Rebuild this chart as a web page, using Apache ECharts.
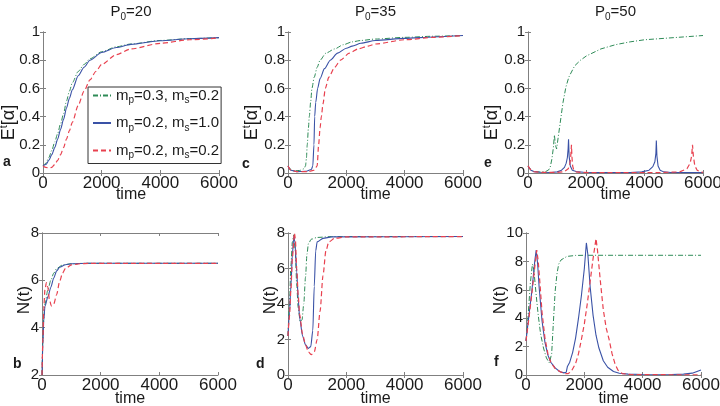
<!DOCTYPE html>
<html><head><meta charset="utf-8">
<script src="https://cdn.jsdelivr.net/npm/echarts/dist/echarts.min.js"></script>
<style>html,body{margin:0;padding:0;background:#fff}#c{width:720px;height:406px}</style>
</head><body><div id="c"></div>
<script>
// ---------- data ----------
const seriesNames = ['m_p=0.3, m_s=0.2', 'm_p=0.2, m_s=1.0', 'm_p=0.2, m_s=0.2'];
const panelTitles = ['20', '35', '50'];
const panelLetters = ['a', 'c', 'e', 'b', 'd', 'f'];
const xTicks = [0, 2000, 4000, 6000];

// panel a : P0=20, E^t[alpha]
const aGreenT = [0,100,200,300,400,500,600,700,800,900,1000,1200,1400,1600,2000,2500,3000,4000,5000,6000];
const aGreenV = [0.05,0.07,0.11,0.16,0.22,0.28,0.35,0.42,0.51,0.58,0.64,0.72,0.77,0.81,0.86,0.895,0.915,0.94,0.953,0.96];
const aBlueT = [0,100,200,300,400,500,600,700,800,900,1000,1200,1400,1600,2000,2500,3000,4000,5000,6000];
const aBlueV = [0.05,0.06,0.09,0.13,0.18,0.24,0.31,0.38,0.46,0.53,0.59,0.69,0.75,0.8,0.855,0.89,0.912,0.938,0.952,0.96];
const aRedT = [0,100,200,300,400,500,600,700,800,900,1000,1200,1400,1600,1800,2000,2500,3000,4000,5000,6000];
const aRedV = [0.05,0.04,0.035,0.04,0.06,0.09,0.13,0.18,0.24,0.3,0.36,0.48,0.58,0.66,0.72,0.77,0.84,0.88,0.92,0.945,0.958];

// panel c : P0=35, E^t[alpha]
const cGreenT = [0,100,200,400,550,600,630,660,700,730,780,820,900,1000,1100,1300,1600,1900,2200,2500,3000,4000,5000,6000];
const cGreenV = [0.05,0.025,0.015,0.018,0.03,0.05,0.1,0.2,0.32,0.4,0.51,0.6,0.68,0.75,0.8,0.85,0.88,0.91,0.93,0.94,0.95,0.962,0.97,0.975];
const cBlueT = [0,100,300,600,800,850,890,915,950,1016,1100,1250,1450,1700,2000,2200,2500,3000,4000,5000,6000];
const cBlueV = [0.05,0.02,0.01,0.012,0.025,0.05,0.2,0.4,0.5,0.6,0.67,0.74,0.8,0.85,0.885,0.9,0.92,0.94,0.955,0.965,0.975];
const cRedT = [0,100,300,700,900,1000,1050,1100,1143,1200,1280,1400,1600,1800,2100,2400,2750,3000,4000,5000,6000];
const cRedV = [0.05,0.02,0.01,0.01,0.02,0.05,0.2,0.32,0.4,0.49,0.6,0.68,0.75,0.8,0.85,0.88,0.9,0.915,0.945,0.962,0.975];

// panel e : P0=50, E^t[alpha]
const eGreenT = [0,100,200,400,600,700,760,820,870,905,940,980,1000,1100,1200,1300,1400,1600,1800,2000,2500,3000,3500,4000,5000,6000];
const eGreenV = [0.05,0.02,0.01,0.008,0.01,0.02,0.04,0.1,0.18,0.27,0.2,0.17,0.2,0.35,0.5,0.61,0.68,0.76,0.8,0.83,0.88,0.91,0.93,0.945,0.96,0.975];
const eBlueT = [0,100,200,400,800,1000,1150,1250,1310,1350,1375,1390,1410,1450,1520,1650,1900,2500,3500,3900,4150,4280,4350,4385,4400,4420,4460,4530,4650,4900,5500,6000];
const eBlueV = [0.05,0.02,0.01,0.005,0.004,0.008,0.02,0.04,0.07,0.11,0.17,0.24,0.12,0.05,0.02,0.01,0.005,0.003,0.003,0.008,0.02,0.045,0.08,0.14,0.23,0.12,0.05,0.02,0.008,0.004,0.003,0.003];
const eRedT = [0,100,200,400,1000,1250,1380,1440,1470,1490,1505,1530,1570,1650,1800,2200,4500,5200,5450,5560,5610,5640,5670,5720,5800,5900,6000];
const eRedV = [0.05,0.02,0.01,0.005,0.004,0.01,0.03,0.07,0.13,0.2,0.12,0.05,0.02,0.008,0.004,0.003,0.003,0.008,0.03,0.07,0.12,0.2,0.12,0.05,0.02,0.008,0.005];

// panel b : P0=20, N(t)
const bGreenT = [0,30,60,100,200,300,400,500,700,1000,1500,6000];
const bGreenV = [2,3.5,4.4,5.0,5.6,6.0,6.3,6.5,6.65,6.7,6.72,6.72];
const bBlueT = [0,30,60,100,200,300,400,500,600,800,1000,1500,6000];
const bBlueV = [2,3.3,4.3,4.9,5.3,5.7,6.1,6.4,6.55,6.66,6.7,6.72,6.72];
const bRedT = [0,30,60,100,150,200,250,320,400,500,600,700,800,1000,1300,1600,6000];
const bRedV = [2,3.5,4.8,5.6,5.9,5.7,5.2,4.92,5.0,5.4,5.95,6.3,6.5,6.65,6.7,6.72,6.72];

// panel d : P0=35, N(t)
const dGreenT = [0,50,100,150,200,250,300,350,420,480,540,600,650,700,800,1000,1500,6000];
const dGreenV = [2.2,4,6.2,7.5,7.9,7.0,5.0,3.8,3.0,3.1,4.0,5.5,6.8,7.4,7.65,7.75,7.8,7.8];
const dBlueT = [0,50,100,150,200,230,300,350,400,500,600,700,780,850,900,950,1000,1200,1500,6000];
const dBlueV = [2.2,3.5,5.0,6.8,7.8,7.6,5.8,4.3,3.2,2.2,1.7,1.5,1.6,2.5,5.0,7.0,7.5,7.7,7.78,7.8];
const dRedT = [0,50,100,150,220,250,300,350,400,500,600,700,800,900,1000,1100,1200,1300,1400,1600,2000,6000];
const dRedV = [2.2,3.3,4.8,6.6,8.0,7.7,6.0,4.5,3.4,2.3,1.7,1.3,1.15,1.3,2.0,3.6,5.6,7.0,7.5,7.7,7.78,7.8];

// panel f : P0=50, N(t)
const fGreenT = [0,50,100,150,220,270,350,420,500,600,700,800,840,880,920,960,1000,1060,1120,1200,1400,1700,2000,6000];
const fGreenV = [2.4,3.5,5.0,6.5,7.8,7.4,5.6,4.2,2.9,1.9,1.2,0.85,0.8,1.5,3.0,4.5,5.9,7.1,7.8,8.1,8.35,8.42,8.43,8.43];
const fBlueT = [0,100,200,300,350,400,450,550,650,750,850,1000,1150,1300,1380,1420,1500,1600,1700,1800,1900,2000,2070,2120,2200,2300,2400,2500,2650,2800,3000,3200,3500,4000,4500,5000,5400,5700,6000];
const fBlueV = [2.4,4.2,5.9,8.0,8.8,7.8,6.2,3.8,2.3,1.4,0.9,0.5,0.25,0.15,0.2,0.6,0.9,1.6,2.6,4.0,5.6,7.5,9.3,8.5,6.2,4.2,2.8,1.9,1.0,0.55,0.25,0.12,0.06,0.03,0.02,0.03,0.06,0.13,0.35];
const fRedT = [0,100,200,300,370,420,480,550,650,750,850,1000,1200,1350,1450,1550,1700,1800,1900,2000,2100,2200,2300,2400,2450,2550,2650,2750,2850,2950,3050,3150,3300,3600,6000];
const fRedV = [2.4,4.0,5.7,7.6,8.8,8.0,6.4,4.4,2.6,1.5,0.9,0.45,0.2,0.1,0.1,0.25,0.8,1.5,2.5,3.6,5.0,6.6,8.2,9.6,8.8,6.6,4.6,3.3,2.5,1.5,0.8,0.35,0.1,0.03,0.01];

// ---------- chart ----------
const FONT = 'Liberation Sans, Arial, Helvetica, sans-serif';
const AX = '#808080';
const TXT = '#1a1a1a';
const styles = [
  {color:'#2e8b57', width:1, type:[5,2,1,2]},
  {color:'#3a52a6', width:1.1, type:'solid'},
  {color:'#e8414f', width:1.2, type:[5,3]}
];
const grids = [
  {left:43, top:32, width:176, height:141},
  {left:288, top:32, width:175, height:141},
  {left:528, top:32, width:175, height:141},
  {left:42, top:233, width:176, height:142},
  {left:288, top:233, width:175, height:142},
  {left:526, top:233, width:175, height:142}
];
const yRanges = [[0,1,0.2],[0,1,0.2],[0,1,0.2],[2,8,2],[0,8,2],[0,10,2]];
const yNameGap = [23, 25, 25, 9, 9, 17];
const letterPos = [[3,155],[242,157],[484,156],[13,357],[256,357],[494,355]];
const panelData = [
  [[aGreenT,aGreenV],[aBlueT,aBlueV],[aRedT,aRedV]],
  [[cGreenT,cGreenV],[cBlueT,cBlueV],[cRedT,cRedV]],
  [[eGreenT,eGreenV],[eBlueT,eBlueV],[eRedT,eRedV]],
  [[bGreenT,bGreenV],[bBlueT,bBlueV],[bRedT,bRedV]],
  [[dGreenT,dGreenV],[dBlueT,dBlueV],[dRedT,dRedV]],
  [[fGreenT,fGreenV],[fBlueT,fBlueV],[fRedT,fRedV]]
];
const pairs = (t, v) => t.map((x, i) => [x, v[i]]);
const plain = v => String(v);

const xAxes = [], yAxes = [], series = [];
grids.forEach((g, i) => {
  const top = i < 3;
  const line = {show:true, lineStyle:{color:AX, width:1}};
  const tick = {show:true, inside:true, length:3, lineStyle:{color:AX}};
  xAxes.push({gridIndex:i, type:'value', position:'bottom', min:xTicks[0], max:xTicks[xTicks.length-1], interval:xTicks[1]-xTicks[0],
    axisLine:line, axisTick:tick, splitLine:{show:false},
    axisLabel:{fontSize:17, color:TXT, fontFamily:FONT, margin:2, formatter:plain},
    name:'time', nameLocation:'middle', nameGap: top ? 14 : 16, nameMoveOverlap:false,
    nameTextStyle:{fontSize:16, color:TXT, fontFamily:FONT}});
  xAxes.push({gridIndex:i, type:'value', position:'top', min:xTicks[0], max:xTicks[xTicks.length-1], interval:xTicks[1]-xTicks[0],
    axisLine:line, axisTick:tick, splitLine:{show:false}, axisLabel:{show:false}});
  const yr = yRanges[i];
  yAxes.push({gridIndex:i, type:'value', position:'left', min:yr[0], max:yr[1], interval:yr[2],
    axisLine:line, axisTick:tick, splitLine:{show:false},
    axisLabel:{fontSize:15, color:TXT, fontFamily:FONT, margin:3, formatter:plain},
    name: top ? '{n|E}{sup|t}{n|[α]}' : 'N(t)', nameLocation:'middle', nameRotate:90, nameGap:yNameGap[i], nameMoveOverlap:false,
    nameTextStyle:{fontSize:17, color:TXT, fontFamily:FONT, padding: top ? [0,40,0,0] : [0,0,0,8],
      rich:{n:{fontSize:18, color:TXT, fontFamily:FONT, lineHeight:22}, sup:{fontSize:11, color:TXT, fontFamily:FONT, lineHeight:11, verticalAlign:'top'}}}});
  yAxes.push({gridIndex:i, type:'value', position:'right', min:yr[0], max:yr[1], interval:yr[2],
    axisLine:line, axisTick:tick, splitLine:{show:false}, axisLabel:{show:false}});
  panelData[i].forEach((d, k) => {
    series.push({type:'line', name:seriesNames[k], xAxisIndex:2*i, yAxisIndex:2*i,
      data:pairs(d[0], d[1]), symbol:'none', showSymbol:false, smooth: (i === 2 || i === 5) ? false : 0.25, smoothMonotone:'x',
      color:styles[k].color, lineStyle:styles[k], silent:true, z:2+k});
  });
});

const titles = [];
panelTitles.forEach((p, i) => {
  const g = grids[i];
  titles.push({text:'{n|P}{s|0}{n|=' + p + '}', left:g.left + g.width/2, top:2, textAlign:'center', padding:0,
    textStyle:{fontSize:15, fontWeight:'normal', color:TXT, fontFamily:FONT,
      rich:{n:{fontSize:15, color:TXT, fontFamily:FONT, lineHeight:20}, s:{fontSize:10, color:TXT, fontFamily:FONT, lineHeight:10, verticalAlign:'bottom'}}}});
});
panelLetters.forEach((l, i) => {
  titles.push({text:l, left:letterPos[i][0], top:letterPos[i][1], padding:0,
    textStyle:{fontSize:14, fontWeight:'bold', color:TXT, fontFamily:FONT}});
});

const legendRich = {
  n:{fontSize:15, color:TXT, fontFamily:FONT, lineHeight:20},
  s:{fontSize:10, color:TXT, fontFamily:FONT, lineHeight:10, verticalAlign:'bottom'}
};
function legendFmt(name) {
  const m = name.match(/m_p=([\d.]+), m_s=([\d.]+)/);
  return '{n|m}{s|p}{n|=' + m[1] + ', m}{s|s}{n|=' + m[2] + '}';
}

const chart = echarts.init(document.getElementById('c'), null, {renderer:'canvas'});
chart.setOption({
  animation:false,
  backgroundColor:'#fff',
  textStyle:{fontFamily:FONT},
  title:titles,
  grid:grids.map(g => Object.assign({show:false, outerBoundsMode:'none', containLabel:false}, g)),
  xAxis:xAxes,
  yAxis:yAxes,
  legend:{data:seriesNames, orient:'vertical', left:88, top:87, padding:[1,2,3,4], itemGap:10,
    itemWidth:18, itemHeight:12, borderColor:'#333', borderWidth:1, backgroundColor:'#fff', borderRadius:0,
    itemStyle:{opacity:0, borderWidth:0}, lineStyle:{opacity:1},
    selectedMode:false, formatter:legendFmt, textStyle:{color:TXT, rich:legendRich}},
  series:series
});
</script></body></html>
